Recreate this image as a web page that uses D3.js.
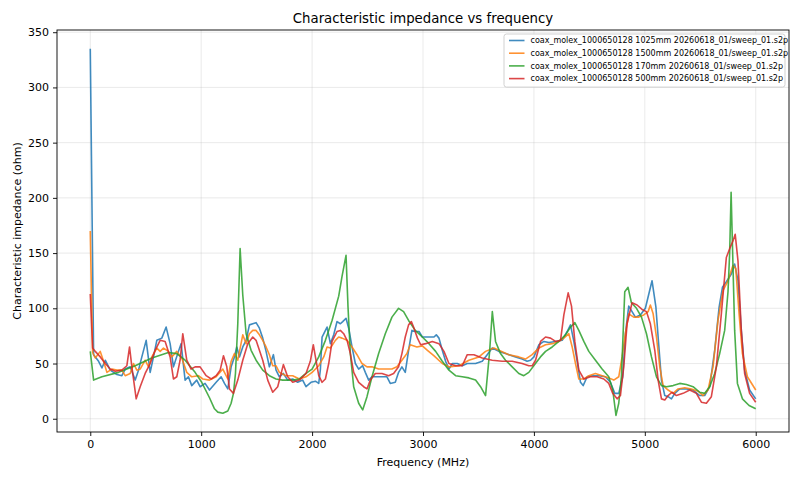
<!DOCTYPE html>
<html>
<head>
<meta charset="utf-8">
<script src="https://cdn.jsdelivr.net/npm/d3@7"></script>
<style>
  body { margin: 0; background: #fff; }
  svg { font-family: "DejaVu Sans", sans-serif; }
</style>
</head>
<body>
<div id="chart"></div>
<script>
// series labels (same order as the legend)
const seriesNames = [
    "coax_molex_1000650128 1025mm 20260618_01/sweep_01.s2p",
    "coax_molex_1000650128 1500mm 20260618_01/sweep_01.s2p",
    "coax_molex_1000650128 170mm 20260618_01/sweep_01.s2p",
    "coax_molex_1000650128 500mm 20260618_01/sweep_01.s2p"
];
const seriesColors = ["#1f77b4", "#ff7f0e", "#2ca02c", "#d62728"];

const xTicks = [0, 1000, 2000, 3000, 4000, 5000, 6000];
const yTicks = [0, 50, 100, 150, 200, 250, 300, 350];

// 1025mm (MHz / ohm)
const blueFreq = [0, 30, 75, 105, 135, 180, 240, 285, 315, 360, 405, 435, 465, 504, 540, 570, 600, 645, 684, 720, 750, 795, 819, 855, 885, 915, 960, 990, 1035, 1075, 1135, 1180, 1210, 1240, 1270, 1300, 1321, 1345, 1375, 1405, 1435, 1465, 1495, 1525, 1555, 1585, 1615, 1651, 1675, 1705, 1741, 1780, 1825, 1870, 1915, 1945, 1990, 2030, 2060, 2075, 2090, 2135, 2165, 2195, 2225, 2255, 2276, 2306, 2330, 2360, 2390, 2420, 2456, 2480, 2510, 2540, 2585, 2630, 2675, 2705, 2750, 2780, 2810, 2840, 2870, 2900, 2930, 2964, 2994, 3054, 3099, 3120, 3144, 3174, 3204, 3234, 3264, 3309, 3354, 3399, 3474, 3534, 3579, 3624, 3684, 3744, 3834, 3894, 3939, 3970, 4000, 4045, 4090, 4135, 4195, 4255, 4300, 4330, 4360, 4390, 4420, 4444, 4480, 4525, 4585, 4645, 4690, 4729, 4765, 4801, 4825, 4855, 4885, 4915, 4960, 5005, 5065, 5100, 5120, 5150, 5180, 5210, 5240, 5270, 5315, 5375, 5435, 5495, 5540, 5585, 5630, 5670, 5700, 5735, 5780, 5810, 5840, 5870, 5900, 5945, 6000];
const blueZ = [335, 58, 52, 46, 53, 44, 40, 39, 45, 47, 35, 44, 56, 71, 42, 56, 71, 73, 83, 68, 47, 61, 68, 35, 38, 30, 35, 29, 32, 26, 33, 38, 32, 27, 47, 56, 65, 56, 65, 71, 85, 86, 87, 82, 73, 61, 47, 58, 44, 38, 41, 35, 36, 33, 35, 29, 33, 34, 32, 45, 74, 83, 68, 76, 88, 86, 88, 91, 82, 65, 50, 45, 48, 42, 35, 38, 38, 38, 38, 32, 33, 42, 47, 42, 62, 80, 79, 79, 74, 74, 74, 76, 73, 62, 52, 45, 50, 50, 48, 50, 50, 52, 58, 64, 61, 59, 56, 54, 52, 53, 56, 67, 70, 69, 70, 71, 79, 85, 70, 52, 33, 30, 38, 39, 39, 38, 33, 23, 23, 38, 77, 102, 97, 92, 94, 100, 125, 101, 74, 35, 21, 20, 18, 23, 27, 27, 26, 21, 21, 29, 62, 101, 119, 124, 131, 140, 125, 80, 44, 26, 18];

// 1500mm
const orangeFreq = [0, 21, 45, 90, 120, 150, 195, 240, 285, 315, 360, 390, 420, 450, 495, 525, 555, 600, 630, 660, 705, 735, 780, 825, 870, 915, 975, 1015, 1075, 1135, 1195, 1240, 1270, 1300, 1330, 1375, 1405, 1435, 1465, 1495, 1525, 1555, 1585, 1615, 1645, 1675, 1705, 1765, 1825, 1885, 1945, 2000, 2060, 2105, 2135, 2165, 2210, 2240, 2270, 2315, 2360, 2405, 2450, 2495, 2540, 2600, 2660, 2720, 2765, 2810, 2855, 2885, 2945, 2994, 3040, 3100, 3174, 3234, 3324, 3414, 3504, 3564, 3639, 3684, 3774, 3864, 3924, 3984, 4045, 4105, 4165, 4225, 4270, 4315, 4345, 4375, 4405, 4450, 4495, 4555, 4615, 4675, 4720, 4765, 4795, 4825, 4855, 4900, 4945, 4990, 5030, 5050, 5075, 5105, 5135, 5165, 5210, 5255, 5300, 5360, 5420, 5480, 5525, 5570, 5615, 5660, 5705, 5750, 5795, 5820, 5850, 5880, 5925, 6000];
const orangeZ = [170, 60, 55, 61, 52, 42, 45, 44, 44, 39, 41, 50, 44, 45, 53, 47, 56, 64, 61, 64, 61, 56, 61, 55, 42, 38, 39, 36, 35, 38, 45, 36, 52, 59, 53, 76, 68, 77, 80, 80, 76, 71, 65, 58, 48, 48, 42, 39, 39, 36, 38, 42, 48, 56, 65, 64, 71, 74, 73, 71, 65, 58, 50, 47, 47, 45, 45, 45, 47, 53, 59, 67, 65, 66, 62, 57, 50, 47, 48, 53, 56, 61, 64, 62, 58, 56, 54, 58, 64, 67, 68, 70, 73, 77, 65, 50, 36, 36, 39, 41, 39, 37, 35, 38, 56, 77, 95, 92, 92, 94, 97, 103, 95, 74, 47, 30, 26, 23, 27, 28, 27, 25, 21, 26, 47, 89, 116, 125, 139, 136, 95, 59, 38, 26];

// 170mm
const greenFreq = [0, 30, 105, 255, 405, 555, 705, 780, 855, 945, 1005, 1075, 1120, 1150, 1195, 1240, 1270, 1291, 1309, 1330, 1351, 1375, 1405, 1450, 1495, 1555, 1615, 1675, 1735, 1825, 1885, 1945, 2000, 2060, 2120, 2180, 2240, 2270, 2306, 2324, 2345, 2375, 2420, 2456, 2495, 2540, 2600, 2660, 2720, 2780, 2825, 2870, 2930, 2994, 3054, 3114, 3174, 3234, 3294, 3354, 3414, 3474, 3519, 3564, 3600, 3625, 3654, 3699, 3744, 3804, 3864, 3909, 3954, 4014, 4059, 4105, 4165, 4225, 4285, 4330, 4369, 4405, 4450, 4495, 4555, 4615, 4675, 4711, 4740, 4765, 4789, 4819, 4849, 4879, 4925, 4970, 5015, 5060, 5105, 5150, 5195, 5255, 5315, 5375, 5435, 5495, 5540, 5585, 5630, 5675, 5720, 5750, 5765, 5778, 5792, 5810, 5835, 5880, 5940, 6000];
const greenZ = [61, 35, 38, 42, 48, 55, 60, 59, 53, 42, 33, 19, 9, 6, 5, 7, 14, 23, 41, 86, 154, 112, 77, 62, 53, 44, 39, 36, 35, 35, 36, 41, 45, 56, 71, 89, 111, 129, 148, 101, 59, 29, 14, 8, 20, 38, 59, 77, 92, 100, 97, 89, 80, 74, 68, 61, 52, 44, 39, 38, 37, 35, 29, 21, 60, 97, 70, 59, 53, 47, 41, 39, 42, 50, 56, 61, 65, 70, 76, 83, 87, 80, 70, 61, 53, 45, 38, 26, 3, 14, 38, 115, 119, 105, 100, 92, 77, 56, 38, 30, 29, 30, 32, 31, 29, 24, 23, 29, 41, 59, 80, 115, 150, 205, 150, 80, 32, 18, 12, 9];

// 500mm
const redFreq = [0, 21, 45, 90, 135, 180, 225, 285, 330, 354, 375, 414, 450, 495, 540, 585, 630, 675, 720, 750, 780, 810, 834, 870, 909, 945, 990, 1045, 1090, 1135, 1171, 1201, 1231, 1255, 1291, 1330, 1375, 1420, 1465, 1495, 1525, 1555, 1600, 1645, 1690, 1741, 1780, 1825, 1885, 1945, 1984, 2011, 2030, 2060, 2090, 2120, 2150, 2180, 2225, 2255, 2285, 2315, 2345, 2375, 2420, 2465, 2495, 2525, 2570, 2630, 2690, 2735, 2780, 2810, 2840, 2870, 2895, 2915, 2950, 2979, 3024, 3084, 3144, 3189, 3234, 3294, 3354, 3399, 3459, 3534, 3624, 3714, 3804, 3894, 3954, 3985, 4015, 4060, 4105, 4150, 4195, 4240, 4270, 4309, 4339, 4369, 4405, 4450, 4510, 4570, 4630, 4675, 4711, 4750, 4780, 4810, 4840, 4885, 4930, 4975, 5015, 5050, 5090, 5120, 5150, 5180, 5210, 5245, 5285, 5345, 5405, 5465, 5510, 5555, 5600, 5645, 5690, 5735, 5765, 5795, 5815, 5840, 5870, 5900, 5945, 6000];
const redZ = [113, 64, 61, 56, 50, 45, 43, 44, 48, 65, 47, 18, 29, 41, 50, 62, 71, 70, 56, 36, 38, 53, 77, 53, 45, 47, 47, 39, 36, 39, 44, 57, 47, 27, 23, 35, 53, 68, 74, 71, 62, 53, 35, 24, 29, 49, 38, 33, 35, 41, 52, 67, 56, 39, 33, 36, 50, 70, 79, 80, 77, 71, 59, 42, 33, 29, 27, 35, 41, 41, 39, 41, 47, 59, 74, 85, 88, 83, 73, 67, 68, 70, 68, 61, 50, 48, 48, 58, 58, 55, 53, 52, 52, 50, 48, 48, 53, 70, 74, 73, 70, 71, 94, 114, 102, 70, 44, 36, 38, 38, 36, 32, 23, 18, 21, 47, 86, 105, 103, 99, 97, 86, 62, 35, 18, 17, 21, 24, 21, 23, 26, 23, 15, 14, 20, 47, 95, 146, 154, 161, 167, 143, 80, 41, 23, 15];

const seriesFreq = [blueFreq, orangeFreq, greenFreq, redFreq];
const seriesZ = [blueZ, orangeZ, greenZ, redZ];

// Figure and axes box (matplotlib-like layout)
const W = 800, H = 480;
const margin = { top: 30, right: 11, bottom: 48, left: 57 };
const width = W - margin.left - margin.right,
      height = H - margin.top - margin.bottom;

const svg = d3.select("#chart")
    .append("svg")
    .attr("width", W)
    .attr("height", H);

const g = svg.append("g")
    .attr("transform", `translate(${margin.left},${margin.top})`);

// scales (5% padding like matplotlib autoscale)
const x = d3.scaleLinear().domain([-300, 6300]).range([0, width]);
const y = d3.scaleLinear().domain([-12, 352]).range([height, 0]);

// grid
g.append("g")
    .selectAll("line.gx")
    .data(xTicks)
    .join("line")
    .attr("x1", d => x(d)).attr("x2", d => x(d))
    .attr("y1", 0).attr("y2", height)
    .attr("stroke", "#b0b0b0").attr("stroke-opacity", 0.3).attr("stroke-width", 0.9);
g.append("g")
    .selectAll("line.gy")
    .data(yTicks)
    .join("line")
    .attr("x1", 0).attr("x2", width)
    .attr("y1", d => y(d)).attr("y2", d => y(d))
    .attr("stroke", "#b0b0b0").attr("stroke-opacity", 0.3).attr("stroke-width", 0.9);

// lines
const line = d3.line()
    .x(d => x(d[0]))
    .y(d => y(d[1]));

seriesNames.forEach((name, i) => {
    const pts = seriesFreq[i].map((f, k) => [f, seriesZ[i][k]]);
    g.append("path")
        .datum(pts)
        .attr("fill", "none")
        .attr("stroke", seriesColors[i])
        .attr("stroke-opacity", 0.85)
        .attr("stroke-width", 1.6)
        .attr("stroke-linejoin", "round")
        .attr("d", line);
});

// axes
const xAxis = g.append("g")
    .attr("transform", `translate(0,${height})`)
    .call(d3.axisBottom(x).tickValues(xTicks).tickSize(4).tickPadding(4).tickFormat(d3.format("d")));
const yAxis = g.append("g")
    .call(d3.axisLeft(y).tickValues(yTicks).tickSize(4).tickPadding(4).tickFormat(d3.format("d")));
[xAxis, yAxis].forEach(a => {
    a.select(".domain").remove();
    a.selectAll("text").attr("font-size", 11).attr("fill", "#000").attr("font-family", "DejaVu Sans");
    a.selectAll("line").attr("stroke", "#000").attr("stroke-width", 0.9);
});

// frame
g.append("rect")
    .attr("width", width).attr("height", height)
    .attr("fill", "none").attr("stroke", "#000").attr("stroke-width", 0.9);

// title and axis labels
svg.append("text")
    .attr("x", margin.left + width / 2).attr("y", 23)
    .attr("text-anchor", "middle").attr("font-size", 13.3)
    .text("Characteristic impedance vs frequency");
svg.append("text")
    .attr("x", margin.left + width / 2).attr("y", 466)
    .attr("text-anchor", "middle").attr("font-size", 11)
    .text("Frequency (MHz)");
svg.append("text")
    .attr("transform", `translate(21,${margin.top + height / 2}) rotate(-90)`)
    .attr("text-anchor", "middle").attr("font-size", 11)
    .text("Characteristic impedance (ohm)");

// legend (upper right)
const lx = 504, ly = 34, lw = 281, rowH = 12.7;
const legend = svg.append("g");
legend.append("rect")
    .attr("x", lx).attr("y", ly).attr("width", lw).attr("height", 12 + rowH * 3 + 3)
    .attr("rx", 2.5)
    .attr("fill", "#fff").attr("fill-opacity", 0.8)
    .attr("stroke", "#cccccc").attr("stroke-width", 0.9);
seriesNames.forEach((name, i) => {
    const cy = ly + 6.5 + i * rowH;
    legend.append("line")
        .attr("x1", lx + 5).attr("x2", lx + 20.5)
        .attr("y1", cy).attr("y2", cy)
        .attr("stroke", seriesColors[i]).attr("stroke-opacity", 0.85).attr("stroke-width", 1.6);
    legend.append("text")
        .attr("x", lx + 26.5).attr("y", cy).attr("dy", "0.35em")
        .attr("font-size", 8)
        .text(name);
});
</script>
</body>
</html>
